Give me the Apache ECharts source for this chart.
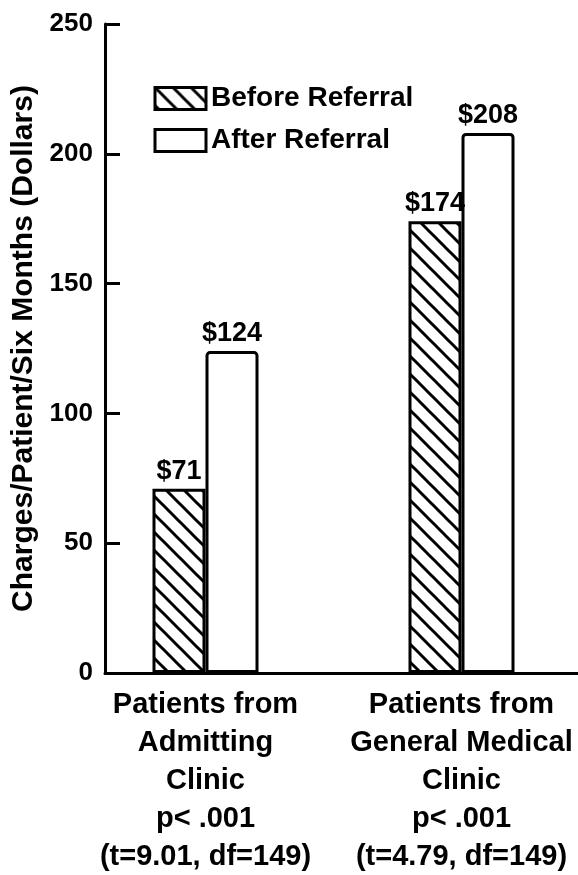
<!DOCTYPE html>
<html>
<head>
<meta charset="utf-8">
<script src="https://cdn.jsdelivr.net/npm/echarts@6/dist/echarts.min.js"></script>
<style>
html,body{margin:0;padding:0;background:#fff;}
#chart{width:578px;height:875px;}
</style>
</head>
<body>
<div id="chart"></div>
<script>
const categories = [
  'Patients from\nAdmitting\nClinic\np< .001\n(t=9.01, df=149)',
  'Patients from\nGeneral Medical\nClinic\np< .001\n(t=4.79, df=149)'
];
const seriesNames = ['Before Referral', 'After Referral'];
const beforeValues = [71, 174];
const afterValues = [124, 208];
const yMin = 0, yMax = 250, yInterval = 50;
const yTitle = 'Charges/Patient/Six Months (Dollars)';

const SANS = "'Liberation Sans', Arial, sans-serif";

function hatch() {
  const p = 18;
  const c = document.createElement('canvas');
  c.width = p; c.height = p;
  const g = c.getContext('2d');
  g.fillStyle = '#fff';
  g.fillRect(0, 0, p, p);
  g.strokeStyle = '#000';
  g.lineWidth = 3;
  for (let k = -1; k <= 1; k++) {
    g.beginPath();
    g.moveTo(k * p - 2, -2);
    g.lineTo(k * p + p + 2, p + 2);
    g.stroke();
  }
  return c;
}

const chart = echarts.init(document.getElementById('chart'), null, {renderer: 'canvas'});
const option = {
  backgroundColor: '#fff',
  animation: false,
  legend: {
    orient: 'vertical',
    left: 148.5,
    top: 79.5,
    itemWidth: 51,
    itemHeight: 22,
    itemGap: 14,
    icon: 'rect',
    itemStyle: {borderColor: '#000', borderWidth: 3},
    textStyle: {fontFamily: SANS, fontWeight: 'bold', fontSize: 28, color: '#000'},
    data: seriesNames
  },
  grid: [
    {left: 77.5, width: 512, top: 24, bottom: 202, containLabel: false, outerBoundsMode: 'none'},
    {left: 105, right: 0, top: 24, bottom: 202, containLabel: false, outerBoundsMode: 'none'}
  ],
  xAxis: [
    {
      type: 'category', gridIndex: 0, data: categories,
      axisLine: {show: false}, axisTick: {show: false},
      axisLabel: {
        margin: 13, interval: 0,
        fontFamily: SANS, fontWeight: 'bold', fontSize: 29, lineHeight: 38, color: '#000'
      }
    },
    {
      type: 'value', gridIndex: 1, min: 0, max: 1,
      axisLine: {show: true, lineStyle: {color: '#000', width: 3}},
      axisTick: {show: false}, axisLabel: {show: false}, splitLine: {show: false}
    }
  ],
  yAxis: [
    {
      type: 'value', gridIndex: 0, min: yMin, max: yMax, interval: yInterval,
      show: false
    },
    {
      type: 'value', gridIndex: 1, min: yMin, max: yMax, interval: yInterval,
      axisLine: {show: true, lineStyle: {color: '#000', width: 3}},
      axisTick: {show: true, inside: true, length: 15, lineStyle: {color: '#000', width: 3}},
      splitLine: {show: false},
      axisLabel: {margin: 12, fontFamily: SANS, fontWeight: 'bold', fontSize: 26, color: '#000'},
      name: yTitle,
      nameLocation: 'middle',
      nameGap: 60,
      nameTextStyle: {fontFamily: SANS, fontWeight: 'bold', fontSize: 30, color: '#000'}
    }
  ],
  series: [
    {
      name: seriesNames[0], type: 'bar', xAxisIndex: 0, yAxisIndex: 0,
      data: beforeValues, barWidth: 53, barGap: '0%',
      itemStyle: {color: {image: hatch(), repeat: 'repeat'}, borderColor: '#000', borderWidth: 3},
      label: {show: true, position: 'top', distance: 4, formatter: '${c}',
        fontFamily: SANS, fontWeight: 'bold', fontSize: 27, color: '#000'}
    },
    {
      name: seriesNames[1], type: 'bar', xAxisIndex: 0, yAxisIndex: 0,
      data: afterValues, barWidth: 53, barGap: '0%',
      itemStyle: {color: '#fff', borderColor: '#000', borderWidth: 3, borderRadius: [3, 3, 0, 0]},
      label: {show: true, position: 'top', distance: 4, formatter: '${c}',
        fontFamily: SANS, fontWeight: 'bold', fontSize: 27, color: '#000'}
    }
  ]
};
chart.setOption(option);
</script>
</body>
</html>
